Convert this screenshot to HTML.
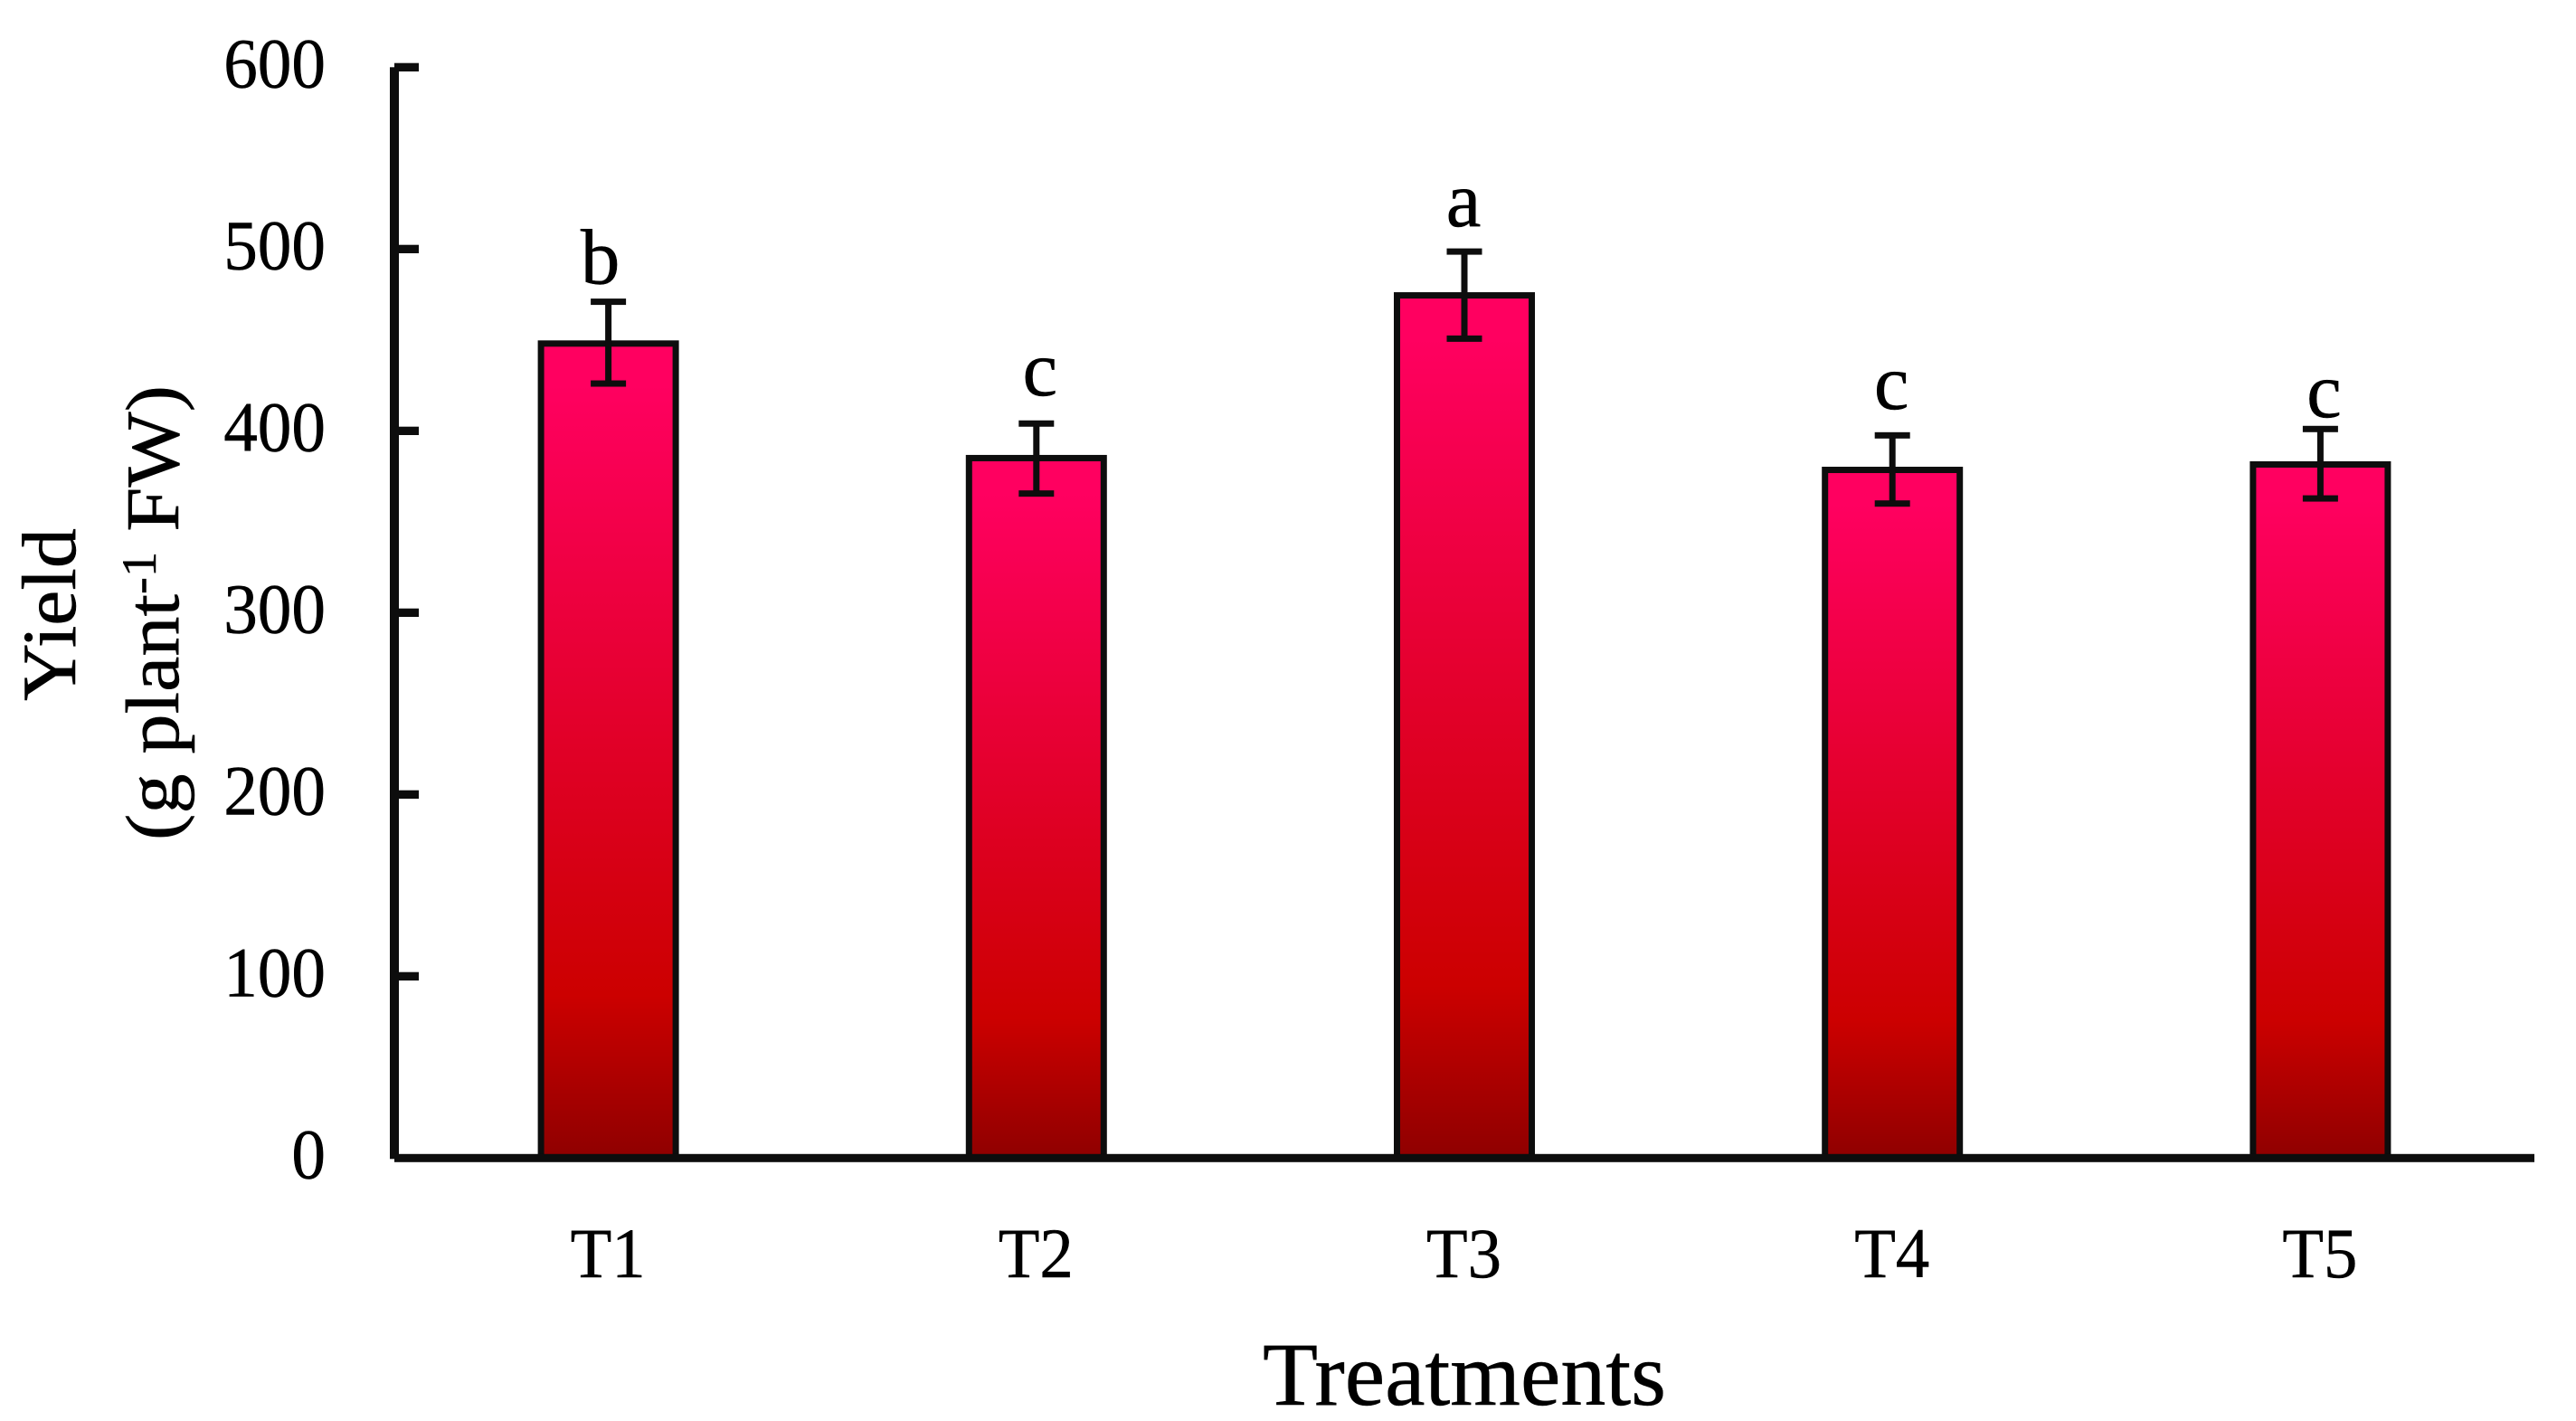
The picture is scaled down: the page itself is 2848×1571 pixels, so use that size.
<!DOCTYPE html>
<html lang="en">
<head>
<meta charset="utf-8">
<title>Yield by treatment</title>
<style>
html,body{margin:0;padding:0;background:#fff;width:2848px;height:1571px;overflow:hidden}
svg{display:block}
text{font-family:"Liberation Serif",serif;fill:#000;stroke:#000;stroke-width:0.5px}
</style>
</head>
<body>
<svg id="chart" xmlns="http://www.w3.org/2000/svg" width="2848" height="1571" viewBox="0 0 2848 1571">
  <defs>
    <linearGradient id="barGradient" x1="0" y1="0" x2="0" y2="1">
      <stop offset="0" stop-color="#ff0060"/>
      <stop offset="0.05" stop-color="#ff0060"/>
      <stop offset="0.8" stop-color="#cc0000"/>
      <stop offset="1" stop-color="#8f0000"/>
    </linearGradient>
  </defs>
  <rect x="0" y="0" width="2848" height="1571" fill="#ffffff"/>
  <g id="bars"></g>
  <g id="errors"></g>
  <g id="axes"></g>
  <g id="letters"></g>
  <text transform="translate(83,775) rotate(-90)" font-size="85" textLength="191" lengthAdjust="spacingAndGlyphs">Yield</text>
  <text transform="translate(197,929) rotate(-90)" font-size="84" textLength="503" lengthAdjust="spacingAndGlyphs">(g plant<tspan font-size="54" dy="-25">-1</tspan><tspan dy="25"> FW)</tspan></text>
  <text x="1396" y="1553" font-size="100" textLength="446" lengthAdjust="spacingAndGlyphs">Treatments</text>
</svg>
<script>
const categories = ['T1', 'T2', 'T3', 'T4', 'T5'];
const yieldValues = [448, 385, 474.5, 378.5, 381.5];
const errorHigh = [471, 404, 498.6, 397.5, 401];
const errorLow = [426, 365.5, 450.7, 360, 362.8];
const significance = ['b', 'c', 'a', 'c', 'c'];
const significanceHeight = [481, 419.5, 512.6, 412, 407.6];
const significanceShift = [-9, 4, -1, -1, 4];
const yTicks = [0, 100, 200, 300, 400, 500, 600];

const NS = 'http://www.w3.org/2000/svg';
const INK = '#0d0d0d';
const plotLeft = 436;
const plotBand = 473.2;
const plotZero = 1280.3;
const pxPerUnit = 2.01;
const barWidth = 149;

function xScale(i) { return plotLeft + plotBand * (i + 0.5); }
function yScale(v) { return plotZero - v * pxPerUnit; }

function rect(parent, x, y, w, h, fill) {
  const el = document.createElementNS(NS, 'rect');
  el.setAttribute('x', x);
  el.setAttribute('y', y);
  el.setAttribute('width', w);
  el.setAttribute('height', h);
  el.setAttribute('fill', fill);
  parent.appendChild(el);
  return el;
}

function label(parent, content, x, y, size, length) {
  const el = document.createElementNS(NS, 'text');
  el.setAttribute('x', x);
  el.setAttribute('y', y);
  el.setAttribute('font-size', size);
  if (length) {
    el.setAttribute('textLength', length);
    el.setAttribute('lengthAdjust', 'spacingAndGlyphs');
  }
  el.textContent = content;
  parent.appendChild(el);
  return el;
}

const barsGroup = document.getElementById('bars');
const errorsGroup = document.getElementById('errors');
const axesGroup = document.getElementById('axes');
const lettersGroup = document.getElementById('letters');

categories.forEach(function (cat, i) {
  const cx = xScale(i);
  const top = yScale(yieldValues[i]);

  const bar = document.createElementNS(NS, 'rect');
  bar.setAttribute('x', cx - barWidth / 2);
  bar.setAttribute('y', top);
  bar.setAttribute('width', barWidth);
  bar.setAttribute('height', plotZero - top);
  bar.setAttribute('fill', 'url(#barGradient)');
  bar.setAttribute('stroke', INK);
  bar.setAttribute('stroke-width', 7);
  
  
  barsGroup.appendChild(bar);

  const hi = yScale(errorHigh[i]);
  const lo = yScale(errorLow[i]);
  const stem = rect(errorsGroup, cx - 3.5, hi, 7, lo - hi, INK);
  
  
  const capTop = rect(errorsGroup, cx - 19.5, hi - 3.5, 39, 7, INK);
  
  
  const capBottom = rect(errorsGroup, cx - 19.5, lo - 3.5, 39, 7, INK);
  
  

  const letter = label(lettersGroup, significance[i], cx + significanceShift[i], yScale(significanceHeight[i]), 87);
  letter.setAttribute('text-anchor', 'middle');
  
  

  const tickLabel = label(axesGroup, cat, cx - 42, 1412, 78, 83);
  
  
});

const yAxisLine = rect(axesGroup, plotLeft - 5, yScale(600), 10, plotZero - yScale(600) + 1, INK);



const xAxisLine = rect(axesGroup, plotLeft, plotZero - 4.5, plotBand * categories.length, 9, INK);



yTicks.forEach(function (t) {
  if (t > 0) {
    const mark = rect(axesGroup, plotLeft, yScale(t) - 4.6, 27, 9.3, INK);
    
    
  }
  const s = String(t);
  const len = s.length * 37.6;
  const txt = label(axesGroup, s, 360 - len, yScale(t) + 22, 78.5, len);
  
  
});
</script>
</body>
</html>
